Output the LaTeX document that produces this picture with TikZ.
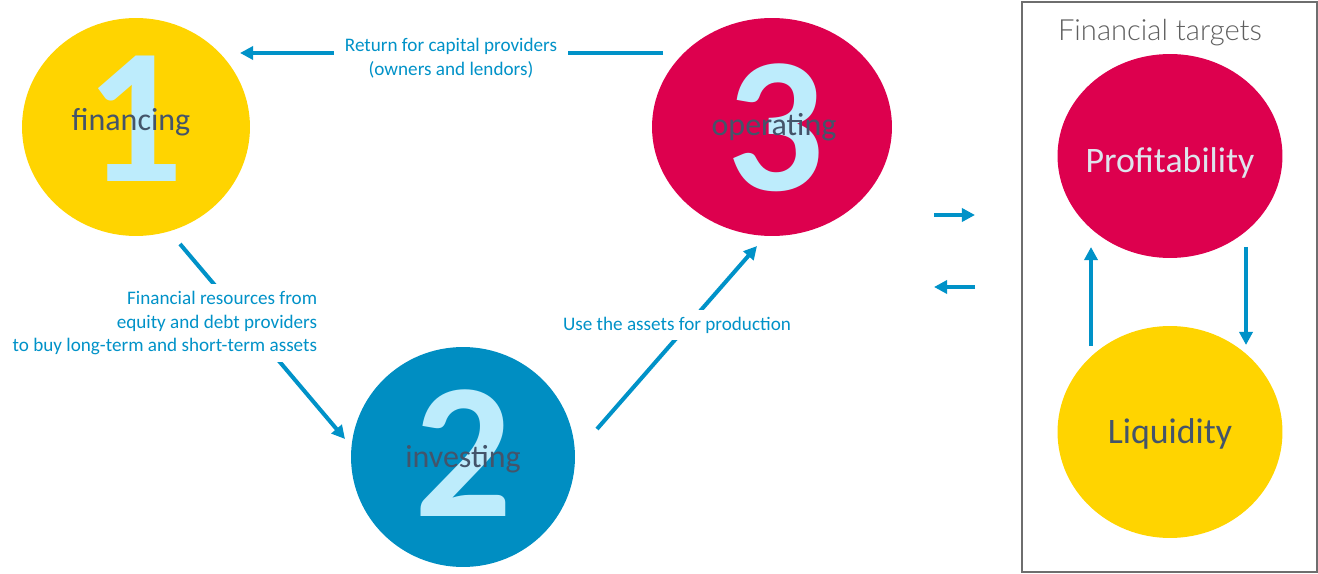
\documentclass[tikz,border=0pt]{standalone}
\usepackage{fontspec}
\setmainfont{Carlito}
\newfontfamily\headfont{Lato Light}
\usetikzlibrary{arrows.meta,positioning,calc,shapes.geometric}

\definecolor{finyellow}{RGB}{255,212,0}
\definecolor{finred}{RGB}{221,0,78}
\definecolor{finblue}{RGB}{0,142,194}
\definecolor{digitblue}{RGB}{189,236,252}
\definecolor{labelgrey}{RGB}{68,84,106}
\definecolor{flowblue}{RGB}{0,146,200}
\definecolor{framegrey}{RGB}{110,110,110}
\definecolor{headgrey}{RGB}{95,95,95}
\definecolor{paletext}{RGB}{222,228,236}

\begin{document}
\begin{tikzpicture}[>={Triangle[length=7.5pt,width=7.5pt]},x=0.02cm,y=-0.02cm]
  \tikzstyle{stage}=[ellipse,inner sep=0pt,draw=none]
  \tikzstyle{digit}=[font=\fontsize{110}{110}\selectfont\bfseries,text=digitblue,inner sep=0pt]
  \tikzstyle{lbl}=[font=\fontsize{18.2}{20}\selectfont,text=labelgrey,inner sep=0pt]
  \tikzstyle{target}=[font=\fontsize{20.4}{22}\selectfont,inner sep=0pt]
  \tikzstyle{flow}=[draw=flowblue,line width=2.3pt]
  \tikzstyle{flowtext}=[font=\fontsize{10.9}{13.3}\selectfont,text=flowblue,fill=white,inner xsep=6pt,inner ysep=4pt]
  \useasboundingbox (0,0) rectangle (1318,574);

  % the three stages
  \node[stage,fill=finyellow,minimum width=4.56cm,minimum height=4.36cm] (fin) at (136,127) {};
  \node[stage,fill=finblue,minimum width=4.48cm,minimum height=4.4cm] (inv) at (463,457) {};
  \node[stage,fill=finred,minimum width=4.8cm,minimum height=4.36cm] (ope) at (772,127) {};
  \node[digit] (d1) at (134,119) {1};
  \node[digit] (d2) at (463,453) {2};
  \node[digit] (d3) at (775,128) {3};
  \node[lbl] at (131,122) {financing};
  \node[lbl] at (463,459) {investing};
  \node[lbl] at (774,127) {operating};

  % flows between the stages
  \coordinate (ret1) at (663,53);
  \coordinate (ret2) at (240,53);
  \coordinate (res1) at (180,244);
  \coordinate (res2) at (345,439);
  \coordinate (use1) at (597,429);
  \coordinate (use2) at (757,246);
  \draw[flow,->] (ret1) -- (ret2);
  \draw[flow,->] (res1) -- (res2);
  \draw[flow,->] (use1) -- (use2);
  \node[flowtext,align=center] at (451,58) {Return for capital providers\\(owners and lendors)};
  \node[flowtext,align=right,anchor=east] at (328,323) {Financial resources from\\equity and debt providers\\to buy long-term and short-term assets};
  \node[flowtext] at (677,325) {Use the assets for production};

  % financial targets
  \node[draw=framegrey,line width=0.8pt,minimum width=5.9cm,minimum height=11.4cm,inner sep=0pt] (targets) at (1169.5,287) {};
  \node[font=\headfont\fontsize{16.6}{18}\selectfont,text=headgrey,inner sep=0pt] (head) at (1160,33) {Financial targets};
  \node[stage,fill=finred,minimum width=4.5cm,minimum height=4.08cm] (prof) at (1170,156) {};
  \node[stage,fill=finyellow,minimum width=4.5cm,minimum height=4.24cm] (liq) at (1170,432) {};
  \node[target,text=paletext] at (1170,163) {Profitability};
  \node[target,text=labelgrey] at (1170,434) {Liquidity};
  \coordinate (up1) at (1091,346);
  \coordinate (up2) at (1091,247);
  \coordinate (dn1) at (1246,247);
  \coordinate (dn2) at (1246,345);
  \draw[flow,->] (up1) -- (up2);
  \draw[flow,->] (dn1) -- (dn2);

  \coordinate (in1) at (934,215);
  \coordinate (in2) at (975,215);
  \coordinate (out1) at (975,287);
  \coordinate (out2) at (934,287);
  \draw[flow,->] (in1) -- (in2);
  \draw[flow,->] (out1) -- (out2);
\end{tikzpicture}
\end{document}
